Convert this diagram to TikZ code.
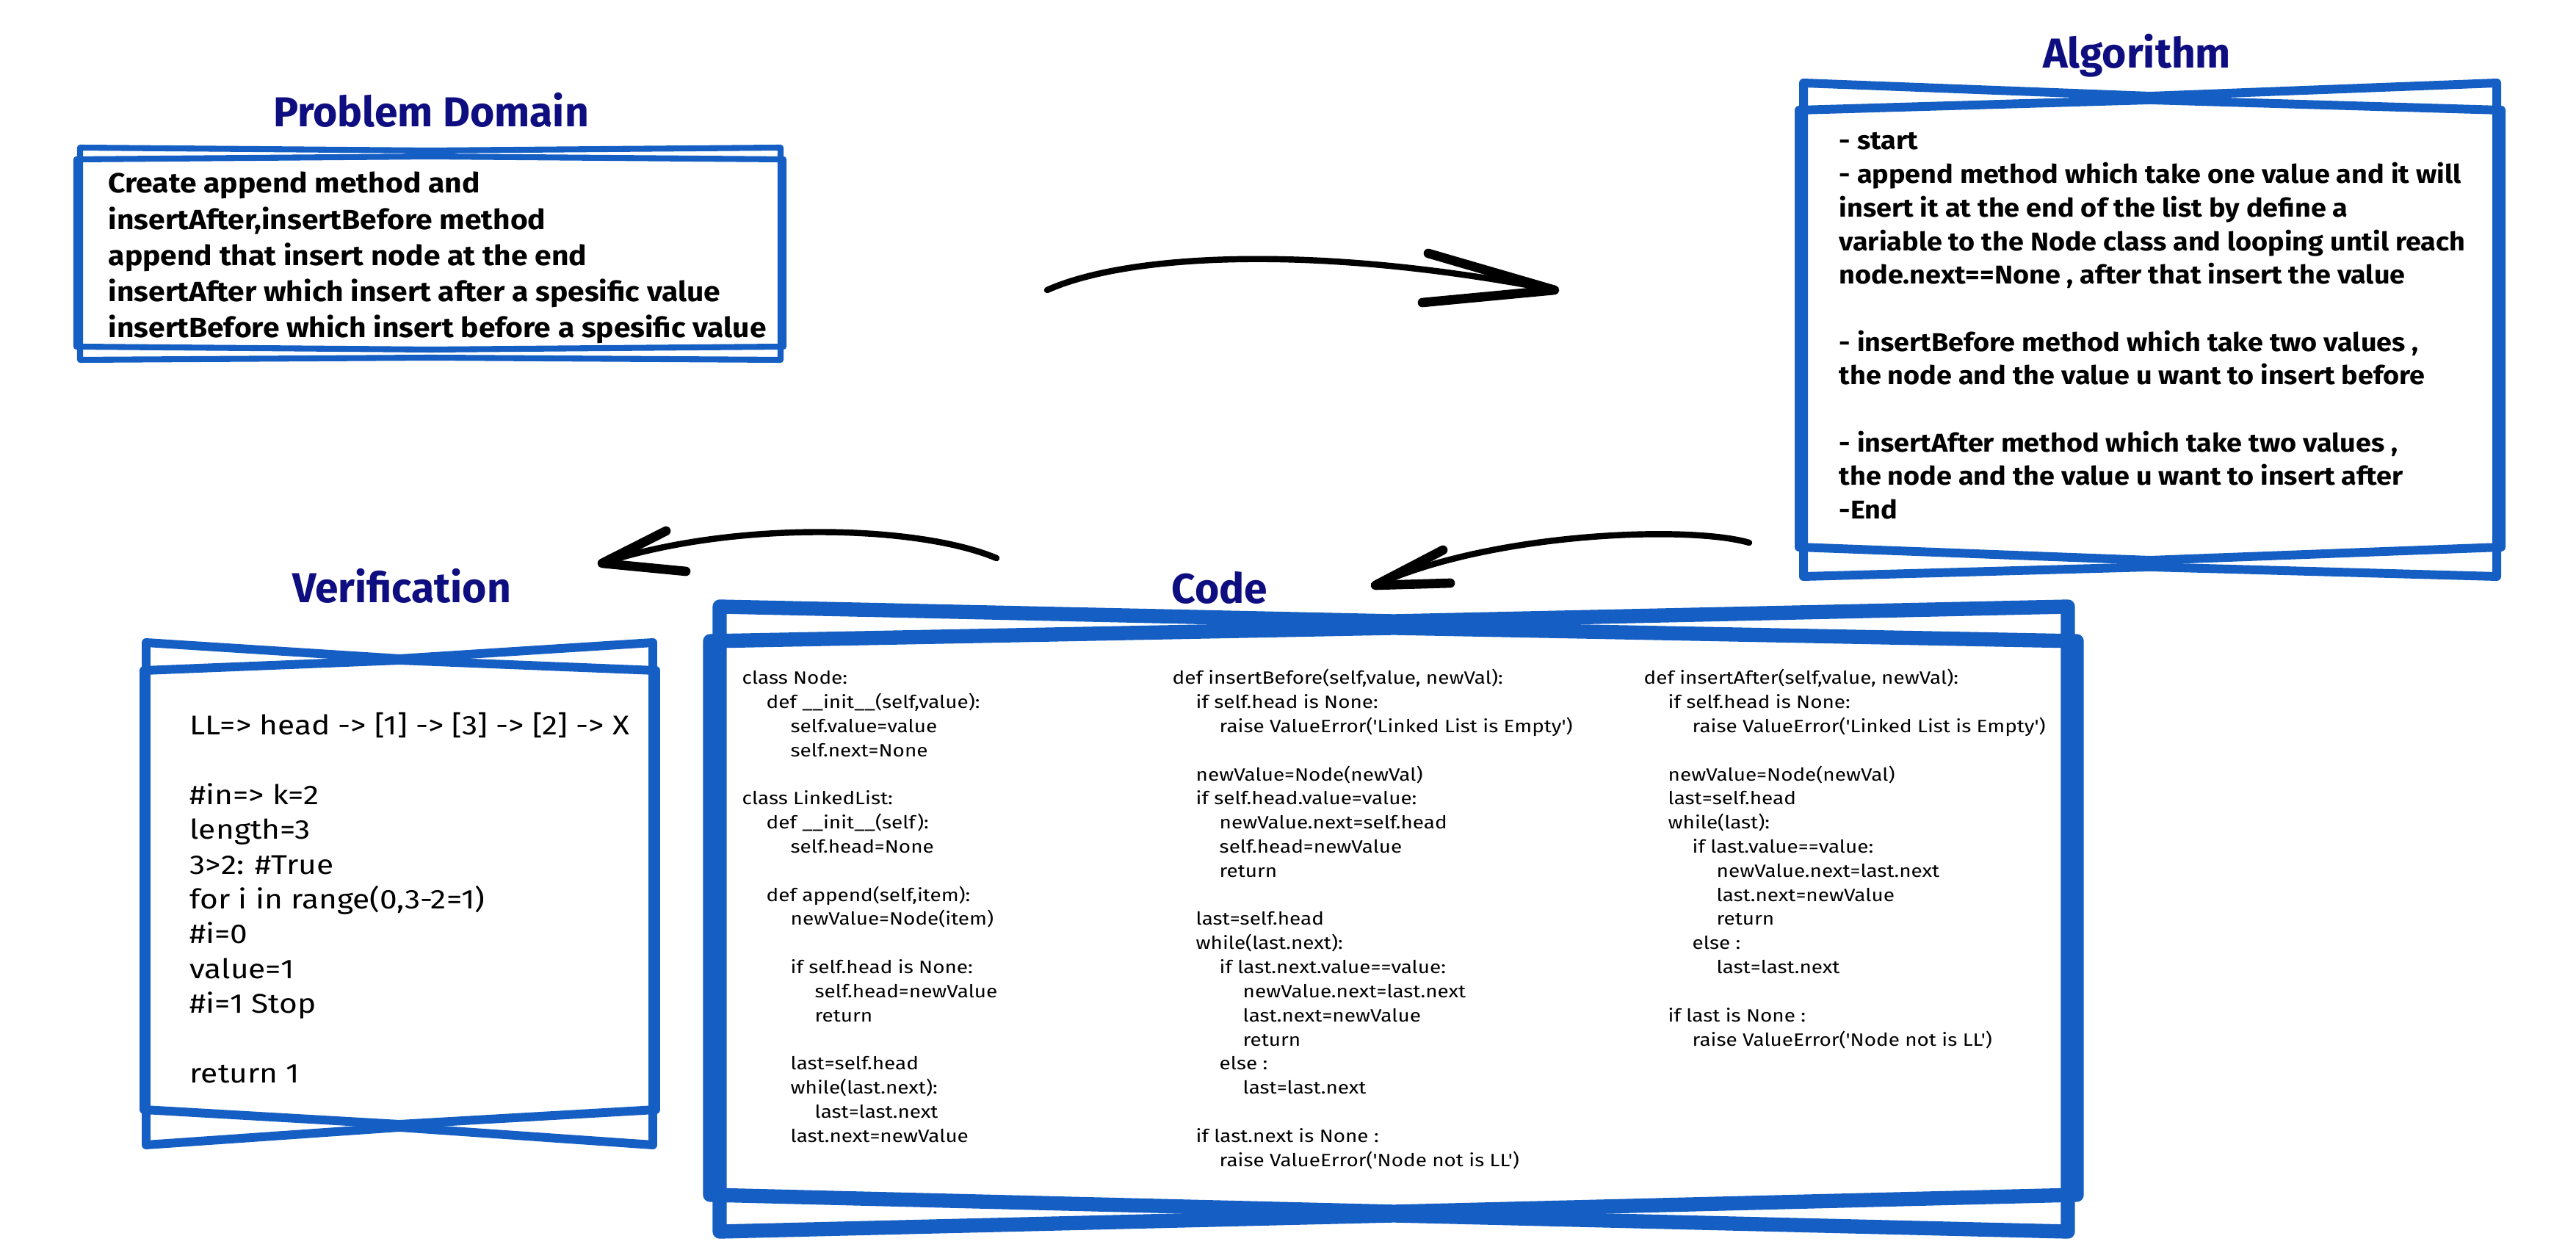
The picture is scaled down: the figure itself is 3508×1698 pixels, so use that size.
\documentclass[tikz,border=0pt]{standalone}
\usepackage{fontspec}
\setmainfont{Fira Sans}
\newfontfamily\handfont{Fira Sans}[FakeStretch=1.08]
\newfontfamily\verfont{Fira Sans}[FakeStretch=1.15]
\newfontfamily\codefont{Fira Sans}[FakeStretch=1.15]
\definecolor{boxblue}{RGB}{21,94,195}
\definecolor{titlenavy}{RGB}{14,14,128}
\begin{document}
\begin{tikzpicture}[x=0.01cm,y=-0.01cm,
  pdline/.style={draw=boxblue,line width=2.3pt,line join=round},
  algline/.style={draw=boxblue,line width=3.4pt,line join=round},
  verline/.style={draw=boxblue,line width=3.4pt,line join=round},
  codeline/.style={draw=boxblue,line width=5.5pt,line join=round},
  titletext/.style={anchor=base,inner sep=0pt,text=titlenavy,font=\fontsize{16.2}{20}\selectfont\bfseries},
  pdtext/.style={anchor=base west,inner sep=0pt,font=\handfont\fontsize{10.75}{12}\selectfont\bfseries},
  algtext/.style={anchor=base west,inner sep=0pt,font=\handfont\fontsize{9.95}{12}\selectfont\bfseries},
  vertext/.style={anchor=base west,inner sep=0pt,font=\verfont\fontsize{10.5}{12}\selectfont},
  codetext/.style={anchor=base west,inner sep=0pt,font=\codefont\fontsize{6.9}{8}\selectfont},
  shaft/.style={draw=black,line width=2.4pt,line cap=round},
  barb/.style={draw=black,line width=3.6pt,line cap=round,line join=round}
]
\useasboundingbox (0,0) rectangle (3508,1698);
\fill[white] (0,0) rectangle (3508,1698);

% ---------- Problem Domain ----------
\node[titletext] (pdtitle) at (587,173) {Problem Domain};
\draw[pdline] (109,201) -- (586,205) -- (1063,201) -- (1063,490) -- (586,487) -- (109,490) -- cycle;
\draw[pdline] (104,217) -- (586,213) -- (1067,217) -- (1067,472) -- (586,476) -- (104,472) -- cycle;
\foreach \li/\tx in {1/Create append method and,
  2/insertAfter{,}insertBefore method,
  3/append that insert node at the end,
  4/insertAfter which insert after a spesific value,
  5/insertBefore which insert before a spesific value}
  \node[pdtext] (pd-\li) at (147,{263+49.2*(\li-1)}) {\tx};

% ---------- Algorithm ----------
\node[titletext] (algtitle) at (2910,93) {Algorithm};
\draw[algline] (2456,113) -- (2928,131) -- (3400,113) -- (3400,785) -- (2928,772) -- (2456,785) -- cycle;
\draw[algline] (2450,150) -- (2928,136) -- (3406,150) -- (3406,745) -- (2928,763) -- (2450,745) -- cycle;
\foreach \li/\tx in {1/- start,
  2/- append method which take one value and it will,
  3/insert it at the end of the list by define a,
  4/variable to the Node class and looping until reach,
  5/node.next==None {,} after that insert the value,
  7/- insertBefore method which take two values {,},
  8/the node and the value u want to insert before,
  10/- insertAfter method which take two values {,},
  11/the node and the value u want to insert after,
  12/-End}
  \node[algtext] (alg-\li) at (2504,{204+45.7*(\li-1)}) {\tx};

% ---------- Verification ----------
\node[titletext] (vertitle) at (547,821) {Verification};
\draw[verline] (199,875) -- (544,897) -- (889,875) -- (889,1559) -- (544,1535) -- (199,1559) -- cycle;
\draw[verline] (196,913) -- (544,899) -- (893,913) -- (893,1511) -- (544,1531) -- (196,1511) -- cycle;
\foreach \li/\tx in {1/LL=> head -> [1] -> [3] -> [2] -> X,
  3/\#in=> k=2,
  4/length=3,
  5/3>2: \#True,
  6/for i in range(0{,}3-2=1),
  7/\#i=0,
  8/value=1,
  9/\#i=1 Stop,
  11/return 1}
  \node[vertext] (ver-\li) at (258,{1001+47.3*(\li-1)}) {\tx};

% ---------- Code ----------
\node[titletext] (codetitle) at (1661,822) {Code};
\draw[codeline] (980,826) -- (1898,846) -- (2816,826) -- (2816,1677) -- (1898,1655) -- (980,1677) -- cycle;
\draw[codeline] (967,873) -- (1898,855) -- (2828,873) -- (2828,1627) -- (1898,1650) -- (967,1627) -- cycle;
\foreach \li/\lv/\tx in {1/0/class Node:,
  2/1/def \_\_init\_\_(self{,}value):,
  3/2/self.value=value,
  4/2/self.next=None,
  6/0/class LinkedList:,
  7/1/def \_\_init\_\_(self):,
  8/2/self.head=None,
  10/1/def append(self{,}item):,
  11/2/newValue=Node(item),
  13/2/if self.head is None:,
  14/3/self.head=newValue,
  15/3/return,
  17/2/last=self.head,
  18/2/while(last.next):,
  19/3/last=last.next,
  20/2/last.next=newValue}
  \node[codetext] (ca-\li) at ({1010+33*\lv},{932+32.8*(\li-1)}) {\tx};
\foreach \li/\lv/\tx in {1/0/def insertBefore(self{,}value{,} newVal):,
  2/1/if self.head is None:,
  3/2/raise ValueError('Linked List is Empty'),
  5/1/newValue=Node(newVal),
  6/1/if self.head.value=value:,
  7/2/newValue.next=self.head,
  8/2/self.head=newValue,
  9/2/return,
  11/1/last=self.head,
  12/1/while(last.next):,
  13/2/if last.next.value==value:,
  14/3/newValue.next=last.next,
  15/3/last.next=newValue,
  16/3/return,
  17/2/else :,
  18/3/last=last.next,
  20/1/if last.next is None :,
  21/2/raise ValueError('Node not is LL')}
  \node[codetext] (cb-\li) at ({1596+32*\lv},{932+32.8*(\li-1)}) {\tx};
\foreach \li/\lv/\tx in {1/0/def insertAfter(self{,}value{,} newVal):,
  2/1/if self.head is None:,
  3/2/raise ValueError('Linked List is Empty'),
  5/1/newValue=Node(newVal),
  6/1/last=self.head,
  7/1/while(last):,
  8/2/if last.value==value:,
  9/3/newValue.next=last.next,
  10/3/last.next=newValue,
  11/3/return,
  12/2/else :,
  13/3/last=last.next,
  15/1/if last is None :,
  16/2/raise ValueError('Node not is LL')}
  \node[codetext] (cc-\li) at ({2238+33*\lv},{932+32.8*(\li-1)}) {\tx};

% ---------- Arrows ----------
\coordinate (a1s) at (1426,395);
\coordinate (a1t) at (2117,395);
\coordinate (a1u) at (1945,345);
\coordinate (a1d) at (1937,412);
\draw[shaft] (a1s) .. controls (1530,348) and (1780,330) .. (a1t);
\draw[barb] (a1u) -- (a1t) -- (a1d);

\coordinate (a2s) at (2382,739);
\coordinate (a2t) at (1873,797);
\coordinate (a2u) at (1965,749);
\coordinate (a2d) at (1975,794);
\draw[shaft] (a2s) .. controls (2300,715) and (2030,725) .. (a2t);
\draw[barb] (a2u) -- (a2t) -- (a2d);

\coordinate (a3s) at (1357,760);
\coordinate (a3t) at (820,767);
\coordinate (a3u) at (907,723);
\coordinate (a3d) at (934,778);
\draw[shaft] (a3s) .. controls (1250,715) and (1000,708) .. (a3t);
\draw[barb] (a3u) -- (a3t) -- (a3d);
\end{tikzpicture}
\end{document}
